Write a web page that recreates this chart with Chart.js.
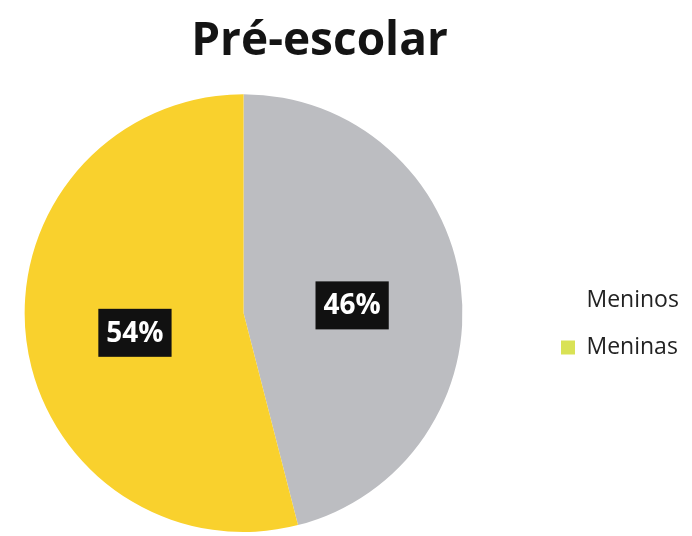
<!DOCTYPE html>
<html>
<head>
<meta charset="utf-8">
<script src="https://cdn.jsdelivr.net/npm/chart.js@4/dist/chart.umd.min.js"></script>
<style>
  html, body { margin: 0; padding: 0; background: #fff; }
  #wrap { width: 692px; height: 536px; }
</style>
</head>
<body>
<div id="wrap"><canvas id="chart"></canvas></div>
<script>
var categories = ['Meninos', 'Meninas'];
var shares = [46, 54];
var sliceColors = ['#BCBDC1', '#F9D12D'];
var legendColors = ['#FFFFFF', '#D9E255'];

// black value boxes in the middle of each slice
var valueBoxes = {
    id: 'valueBoxes',
    afterDatasetsDraw: function (chart) {
        var ctx = chart.ctx;
        var arcs = chart.getDatasetMeta(0).data;
        ctx.save();
        ctx.font = 'bold 28px "Open Sans"';
        ctx.textAlign = 'center';
        ctx.textBaseline = 'middle';
        arcs.forEach(function (arc, i) {
            var p = arc.tooltipPosition();
            var y = p.y + 6;
            var text = shares[i] + '%';
            var w = ctx.measureText(text).width + 16;
            var h = 48;
            ctx.fillStyle = '#111111';
            ctx.fillRect(p.x - w / 2, y - h / 2, w, h);
            ctx.fillStyle = '#FFFFFF';
            ctx.fillText(text, p.x, y + 1);
        });
        ctx.restore();
    }
};

// push the legend out to the right edge and down beside the pie
var legendNudge = {
    id: 'legendNudge',
    afterLayout: function (chart) {
        var l = chart.legend;
        var dx = 561 - (l.left + l.options.labels.padding);
        var dy = 58;
        l.left += dx; l.right += dx;
        l.top += dy; l.bottom += dy;
    }
};

Chart.defaults.font.family = '"Open Sans", sans-serif';

new Chart(document.getElementById('chart').getContext('2d'), {
    type: 'pie',
    data: {
        labels: categories,
        datasets: [{
            data: shares,
            backgroundColor: sliceColors,
            borderWidth: 0
        }]
    },
    options: {
        responsive: true,
        maintainAspectRatio: false,
        animation: false,
        layout: { padding: { left: 20, right: 73, top: 0, bottom: 4 } },
        plugins: {
            title: {
                display: true,
                text: 'Pré-escolar',
                color: '#141414',
                font: { size: 46, weight: 'bold' },
                padding: { top: 14, bottom: 25 }
            },
            legend: {
                position: 'right',
                labels: {
                    color: '#222222',
                    font: { size: 23 },
                    boxWidth: 14,
                    boxHeight: 14,
                    padding: 24,
                    generateLabels: function (chart) {
                        var items = Chart.overrides.pie.plugins.legend.labels.generateLabels(chart);
                        items.forEach(function (it, i) {
                            it.fillStyle = legendColors[i];
                            it.strokeStyle = legendColors[i];
                            it.lineWidth = 0;
                        });
                        return items;
                    }
                }
            },
            tooltip: { enabled: false }
        }
    },
    plugins: [valueBoxes, legendNudge]
});
</script>
</body>
</html>
